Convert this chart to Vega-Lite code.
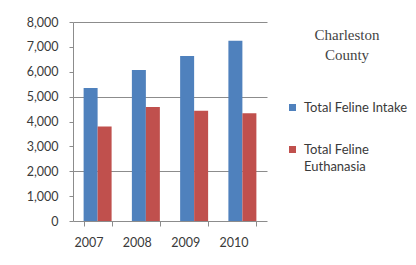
{
  "$schema": "https://vega.github.io/schema/vega-lite/v6.json",
  "width": 194,
  "height": 199,
  "autosize": {"type": "none"},
  "padding": {"left": 73, "top": 22, "right": 149, "bottom": 44},
  "background": "white",
  "data": {
    "values": [
      {"year": "2007", "series": "Total Feline Intake", "value": 5350},
      {"year": "2007", "series": "Total Feline Euthanasia", "value": 3800},
      {"year": "2008", "series": "Total Feline Intake", "value": 6070},
      {"year": "2008", "series": "Total Feline Euthanasia", "value": 4580},
      {"year": "2009", "series": "Total Feline Intake", "value": 6630},
      {"year": "2009", "series": "Total Feline Euthanasia", "value": 4430},
      {"year": "2010", "series": "Total Feline Intake", "value": 7250},
      {"year": "2010", "series": "Total Feline Euthanasia", "value": 4330}
    ]
  },
  "mark": {"type": "bar"},
  "encoding": {
    "x": {
      "field": "year",
      "type": "nominal",
      "scale": {"paddingInner": 0.42, "paddingOuter": 0.22},
      "axis": {
        "title": null,
        "labelAngle": 0,
        "tickBand": "extent",
        "domainColor": "#8c8c8c",
        "tickColor": "#8c8c8c",
        "tickSize": 5,
        "labelPadding": 10,
        "labelOffset": -9,
        "labelFont": "Lato",
        "labelFontSize": 12.5,
        "labelColor": "#3a3a3a",
        "grid": false
      }
    },
    "xOffset": {"field": "series", "type": "nominal", "sort": ["Total Feline Intake", "Total Feline Euthanasia"]},
    "y": {
      "field": "value",
      "type": "quantitative",
      "scale": {"domain": [0, 8000]},
      "axis": {
        "title": null,
        "values": [0, 1000, 2000, 3000, 4000, 5000, 6000, 7000, 8000],
        "format": ",.0f",
        "tickSize": 4,
        "labelPadding": 11,
        "labelFont": "Lato",
        "labelFontSize": 12.5,
        "labelColor": "#3a3a3a",
        "domainColor": "#8c8c8c",
        "tickColor": "#8c8c8c",
        "gridColor": "#8c8c8c",
        "gridOpacity": {"condition": {"test": "datum.value % 3000 == 2000", "value": 1}, "value": 0}
      }
    },
    "color": {
      "field": "series",
      "type": "nominal",
      "scale": {"domain": ["Total Feline Intake", "Total Feline Euthanasia"], "range": ["#4F81BD", "#C0504D"]},
      "legend": {
        "title": ["Charleston", "County"],
        "orient": "none",
        "legendX": 213,
        "legendY": 6,
        "titleFont": "Liberation Serif",
        "titleFontSize": 15,
        "titleFontWeight": "normal",
        "titleColor": "#444444",
        "titleAnchor": "middle",
        "titleAlign": "center",
        "titleLineHeight": 20,
        "titlePadding": 38,
        "symbolType": "square",
        "symbolSize": 49,
        "symbolStrokeWidth": 0,
        "labelFont": "Lato",
        "labelFontSize": 13,
        "labelColor": "#3a3a3a",
        "labelBaseline": "alphabetic",
        "labelOffset": 5,
        "rowPadding": 28,
        "labelLimit": 200,
        "labelExpr": "datum.label == 'Total Feline Euthanasia' ? ['Total Feline', 'Euthanasia'] : datum.label",
        "encode": {"labels": {"update": {"dy": {"value": 4}, "lineHeight": {"value": 17}}}}
      }
    }
  },
  "config": {"view": {"stroke": null}}
}
